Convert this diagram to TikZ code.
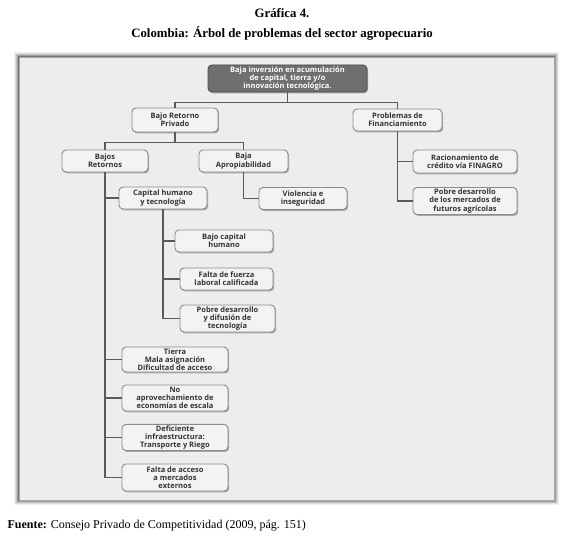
\documentclass[tikz,border=0pt]{standalone}
\usepackage{fontspec}
\setmainfont{Liberation Serif}
\newfontfamily\boxfont{Open Sans}
\usetikzlibrary{shadows,calc}
\definecolor{panelfill}{HTML}{EDEDED}
\definecolor{boxfill}{HTML}{F3F3F3}
\definecolor{boxline}{HTML}{8A8A8A}
\definecolor{darkbox}{HTML}{6F6F6F}
\definecolor{linkcol}{HTML}{5A5A5A}
\tikzset{
  pbox/.style={draw=boxline, line width=0.9pt, fill=boxfill, rounded corners=4pt,
    align=center, font=\boxfont\bfseries\fontsize{7.5}{8.3}\selectfont, text=black!80,
    inner sep=1pt, drop shadow={shadow xshift=1.2pt, shadow yshift=-1.4pt, fill=black!45, opacity=0.7}},
  topbox/.style={pbox, fill=darkbox, draw=black!70, text=white},
  link/.style={draw=linkcol, line width=1.1pt},
}
\begin{document}
\begin{tikzpicture}[x=1pt, y=-1pt]
\useasboundingbox (0,0) rectangle (564,540);
\fill[white] (0,0) rectangle (564,540);
% titles
\node (t1) at (282,13) {\fontsize{12.8}{14}\selectfont\bfseries Gráfica 4.};
\node (t2) at (282,33) {\fontsize{12.8}{14}\selectfont\bfseries Colombia: Árbol de problemas del sector agropecuario};
% panel with soft shadow
\foreach \d/\o in {5/0.06,4/0.08,3/0.12,2/0.18,1/0.25}{
  \fill[black, opacity=\o] ($(19,57)+(-\d,-\d)$) rectangle ($(554,500)+(\d,\d)$);
}
\fill[panelfill] (19,57) rectangle (554,500);
\draw[black!35, line width=0.6pt] (19,57) rectangle (554,500);
% nodes
\node[topbox, minimum width=159pt, minimum height=27pt] (top) at (287.5,78.5)
  {Baja inversión en acumulación\\de capital, tierra y/o\\innovación tecnológica.};
\node[pbox, minimum width=86pt, minimum height=24pt] (brp) at (175,120) {Bajo Retorno\\Privado};
\node[pbox, minimum width=89pt, minimum height=22pt] (pf) at (397.5,120) {Problemas de\\Financiamiento};
\node[pbox, minimum width=104pt, minimum height=23pt] (rac) at (465,161.5) {Racionamiento de\\crédito vía FINAGRO};
\node[pbox, minimum width=104pt, minimum height=27pt] (pdm) at (465,201) {Pobre desarrollo\\de los mercados de\\futuros agrícolas};
\node[pbox, minimum width=86pt, minimum height=22pt] (br) at (105,161) {Bajos\\Retornos};
\node[pbox, minimum width=89pt, minimum height=22pt] (ba) at (243.5,161) {Baja\\Apropiabilidad};
\node[pbox, minimum width=88pt, minimum height=22pt] (vio) at (303,198.5) {Violencia e\\inseguridad};
\node[pbox, minimum width=88pt, minimum height=22pt] (ch) at (163,198) {Capital humano\\y tecnología};
\node[pbox, minimum width=98pt, minimum height=22pt] (bch) at (224,241) {Bajo capital\\humano};
\node[pbox, minimum width=93pt, minimum height=22pt] (ffl) at (226.5,279) {Falta de fuerza\\laboral calificada};
\node[pbox, minimum width=95pt, minimum height=27pt] (pdt) at (227.5,318.5) {Pobre desarrollo\\y difusión de\\tecnología};
\node[pbox, minimum width=106pt, minimum height=25pt] (tie) at (175,359.5) {Tierra\\Mala asignación\\Dificultad de acceso};
\node[pbox, minimum width=106pt, minimum height=26pt] (nae) at (175,398) {No\\aprovechamiento de\\economías de escala};
\node[pbox, minimum width=106pt, minimum height=25pt] (dif) at (175,437.5) {Deficiente\\infraestructura:\\Transporte y Riego};
\node[pbox, minimum width=106pt, minimum height=27pt] (fam) at (175,477.5) {Falta de acceso\\a mercados\\externos};
% connectors
\draw[link] (top.south) -- ++(0,10) coordinate (j1);
\draw[link] (brp.north) |- (j1) -| (pf.north);
\draw[link] (brp.south) -- ++(0,10) coordinate (j2);
\draw[link] (br.north) |- (j2) -| (ba.north);
\draw[link] (pf.south) |- (rac.west);
\draw[link] (pf.south) |- (pdm.west);
\draw[link] (ba.south) |- (vio.west);
\draw[link] (br.south) |- (ch.west);
\draw[link] (br.south) |- (tie.west);
\draw[link] (br.south) |- (nae.west);
\draw[link] (br.south) |- (dif.west);
\draw[link] (br.south) |- (fam.west);
\draw[link] (ch.south) |- (bch.west);
\draw[link] (ch.south) |- (ffl.west);
\draw[link] (ch.south) |- (pdt.west);
% source
\node[anchor=west] (src) at (4,526) {\fontsize{12}{14}\selectfont\textbf{Fuente:} Consejo Privado de Competitividad (2009, pág. 151)};
\end{tikzpicture}
\end{document}
